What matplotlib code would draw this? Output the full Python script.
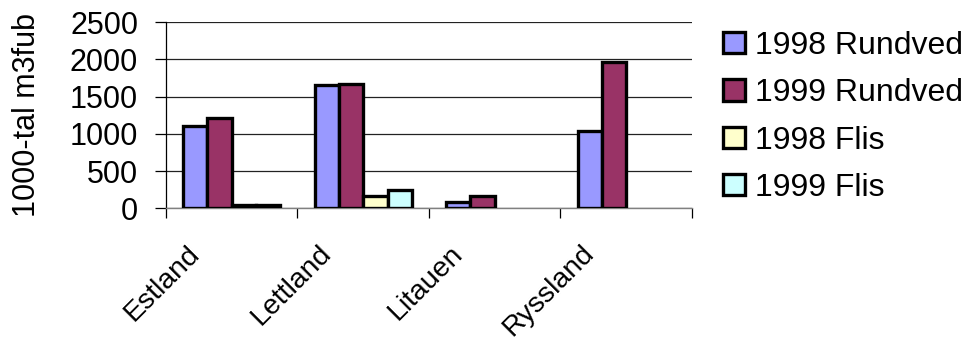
import matplotlib
matplotlib.use('Agg')
import matplotlib.pyplot as plt
import matplotlib.transforms as mtransforms
import numpy as np

plt.rcParams['font.family'] = ['Liberation Sans', 'DejaVu Sans']

countries = ['Estland', 'Lettland', 'Litauen', 'Ryssland']
series = ['1998 Rundved', '1999 Rundved', '1998 Flis', '1999 Flis']
# no Flis figures for Litauen and Ryssland
rundved_1998 = [1110, 1660, 80, 1040]
rundved_1999 = [1210, 1670, 170, 1960]
flis_1998 = [45, 170, np.nan, np.nan]
flis_1999 = [40, 250, np.nan, np.nan]
values = [rundved_1998, rundved_1999, flis_1998, flis_1999]
colors = ['#9999FF', '#993366', '#FFFFCC', '#CCFFFF']

fig = plt.figure(figsize=(9.74, 3.45), dpi=100)
ax = fig.add_axes([0.1704, 0.396, 0.54, 0.540])

x = np.arange(len(countries))
w = 0.185
for i, (vals, name, col) in enumerate(zip(values, series, colors)):
    offs = (i - 1.5) * w
    ax.bar(x + offs, vals, w, color=col, edgecolor='black', linewidth=2.4,
           label=name, zorder=3)

ax.set_xlim(-0.5, len(countries) - 0.5)
ax.set_ylim(0, 2500)
ax.set_yticks(np.arange(0, 2501, 500))
ax.yaxis.grid(True, color='#222222', linewidth=0.9, zorder=0)
ax.set_axisbelow(True)

for side in ['top', 'right']:
    ax.spines[side].set_visible(False)
ax.spines['left'].set_color('black')
ax.spines['left'].set_linewidth(0.9)
ax.spines['bottom'].set_color('#808080')
ax.spines['bottom'].set_linewidth(1.0)

ax.tick_params(axis='y', direction='out', length=8, width=0.9, pad=12,
               labelsize=22, colors='black')

# category labels sit under the bars, tick marks go between categories
ax.set_xticks(x)
ax.set_xticks(np.arange(-0.5, len(countries)), minor=True)
ax.tick_params(axis='x', which='major', length=0, pad=23, labelsize=20.5)
ax.tick_params(axis='x', which='minor', direction='out', length=7, width=0.9,
               color='black')
ax.set_xticklabels(countries, rotation=45, ha='right', rotation_mode='anchor')
shift = mtransforms.ScaledTranslation(-0.45, 0, fig.dpi_scale_trans)
for lab in ax.get_xticklabels():
    lab.set_transform(lab.get_transform() + shift)

ax.set_ylabel('1000-tal m3fub', fontsize=22)
ax.yaxis.set_label_coords(-0.236, 0.5)

fig.legend(loc='upper left', bbox_to_anchor=(0.742, 0.91), frameon=False,
           fontsize=23, handlelength=0.7, handleheight=0.65,
           handletextpad=0.3, labelspacing=0.54, borderpad=0,
           borderaxespad=0)

fig.savefig('out.png', dpi=100)
